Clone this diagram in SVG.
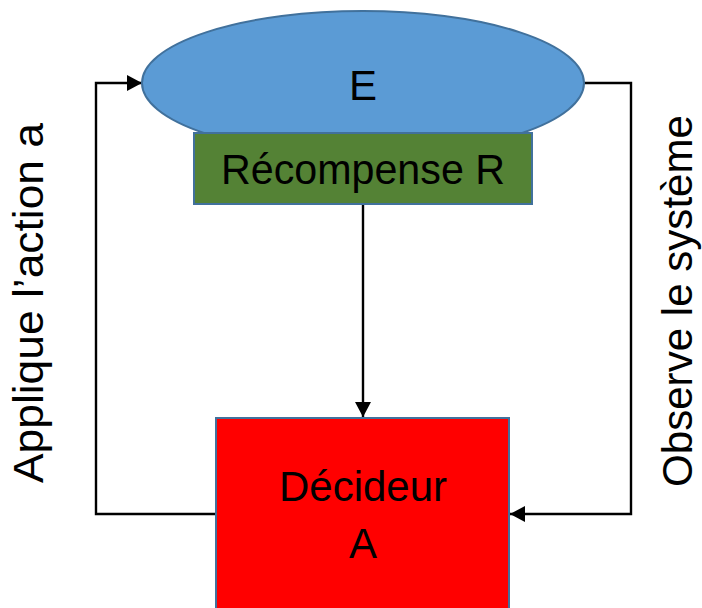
<svg xmlns="http://www.w3.org/2000/svg" width="702" height="608" viewBox="0 0 702 608">
  <style>
    .lbl { font-family: "Liberation Sans", Arial, sans-serif; font-size: 42px; fill: #000; }
    .mid { text-anchor: middle; }
    .edge { fill: none; stroke: #000; stroke-width: 2.4; }
    .outline { stroke: #41719C; stroke-width: 2; }
  </style>
  <defs>
    <marker id="arrow" viewBox="0 0 15 16" refX="15" refY="8" markerWidth="15" markerHeight="16" markerUnits="userSpaceOnUse" orient="auto">
      <path d="M0,0 L15,8 L0,16 Z" fill="#000"/>
    </marker>
  </defs>

  <!-- connectors -->
  <g id="connectors">
    <path class="edge" d="M216,514 H96 V83 H142" marker-end="url(#arrow)"/>
    <path class="edge" d="M584,83 H631 V514 H510" marker-end="url(#arrow)"/>
    <path class="edge" d="M363,204 V417" marker-end="url(#arrow)"/>
  </g>

  <!-- environment -->
  <g id="env">
    <ellipse class="outline" cx="363" cy="83" rx="221" ry="72" fill="#5B9BD5"/>
    <text class="lbl mid" x="363" y="100">E</text>
  </g>

  <!-- reward -->
  <g id="reward">
    <rect class="outline" x="194" y="133" width="338" height="71" fill="#548235"/>
    <text class="lbl mid" x="363" y="184" textLength="284" lengthAdjust="spacingAndGlyphs">Récompense R</text>
  </g>

  <!-- decision maker -->
  <g id="agent">
    <rect class="outline" x="216" y="418" width="293" height="200" fill="#FF0000"/>
    <text class="lbl mid" x="363" y="501">Décideur</text>
    <text class="lbl mid" x="363" y="558">A</text>
  </g>

  <!-- side labels -->
  <g id="label-action">
    <text class="lbl mid" transform="translate(43,303) rotate(-90)" textLength="360" lengthAdjust="spacingAndGlyphs">Applique l’action a</text>
  </g>
  <g id="label-observe">
    <text class="lbl mid" transform="translate(692,301) rotate(-90)" textLength="372" lengthAdjust="spacingAndGlyphs">Observe le système</text>
  </g>
</svg>
